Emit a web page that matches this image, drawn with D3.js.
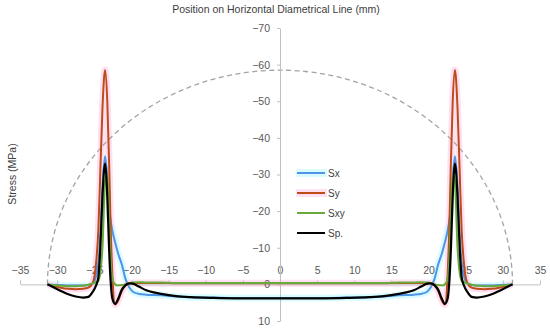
<!DOCTYPE html>
<html>
<head>
<meta charset="utf-8">
<script src="https://cdn.jsdelivr.net/npm/d3@7"></script>
<style>
	body { margin: 0; background: #fff; }
	text { font-family: "Liberation Sans", Arial, sans-serif; }
</style>
</head>
<body>
<script>

// position along the diametrical line (mm)
var posX = [-31.3, -30.5, -29.5, -28.5, -27.5, -26.5, -25.8, -25.2, -24.8, -24.45, -24.2, -23.9, -23.55, -23.25, -23.0, -22.8, -22.55, -22.2, -21.8, -21.3, -20.8, -20.3, -19.8, -19.0, -18.0, -17.0, -16.0, -14.0, -12.0, -9.0, -6.0, -3.0,
	0,
	3.0, 6.0, 9.0, 12.0, 14.0, 16.0, 17.0, 18.0, 19.0, 19.8, 20.3, 20.8, 21.3, 21.8, 22.2, 22.55, 22.8, 23.0, 23.25, 23.55, 23.9, 24.2, 24.45, 24.8, 25.2, 25.8, 26.5, 27.5, 28.5, 29.5, 30.5, 31.3];

// stresses (MPa)
var sx = [0, 0.1, 0.2, 0.3, 0.3, 0.3, 0.2, -0.3, -2, -6, -13, -27, -35, -29, -21, -17.5, -14.5, -11.5, -8.5, -5.5, -1.5, 0.8, 2.0, 2.6, 2.8, 2.9, 3.0, 3.3, 3.5, 3.6, 3.7, 3.7,
	3.7,
	3.7, 3.7, 3.6, 3.5, 3.3, 3.0, 2.9, 2.8, 2.6, 2.0, 0.8, -1.5, -5.5, -8.5, -11.5, -14.5, -17.5, -21, -29, -35, -27, -13, -6, -2, -0.3, 0.2, 0.3, 0.3, 0.3, 0.2, 0.1, 0];

var sy = [0, 0.4, 0.9, 1.2, 1.3, 1.2, 0.9, -0.5, -5, -15, -30, -48, -58.5, -50, -33, -16, -2, 5.5, 4.5, 1.8, 0.3, -0.3, -0.4, -0.4, -0.4, -0.4, -0.4, -0.3, -0.3, -0.3, -0.3, -0.3,
	-0.3,
	-0.3, -0.3, -0.3, -0.3, -0.3, -0.4, -0.4, -0.4, -0.4, -0.4, -0.3, 0.3, 1.8, 4.5, 5.5, -2, -16, -33, -50, -58.5, -48, -30, -15, -5, -0.5, 0.9, 1.2, 1.3, 1.2, 0.9, 0.4, 0];

var sxy = [0, 0.2, 0.4, 0.5, 0.5, 0.4, 0.1, -0.3, -0.6, -1, -3, -10, -28, -30, -17, -7, -1.5, 0, 0.3, 0.2, 0, -0.3, -0.5, -0.6, -0.5, -0.5, -0.5, -0.4, -0.4, -0.4, -0.4, -0.4,
	-0.4,
	-0.4, -0.4, -0.4, -0.4, -0.4, -0.5, -0.5, -0.5, -0.6, -0.5, -0.3, 0, 0.2, 0.3, 0, -1.5, -7, -17, -30, -28, -10, -3, -1, -0.6, -0.3, 0.1, 0.4, 0.5, 0.5, 0.4, 0.2, 0];

var sp = [0, 0.8, 1.8, 2.7, 3.3, 3.6, 3.4, 2.0, 0.5, -2, -9.5, -24, -33, -24, -9.5, -1, 4, 5.3, 4.0, 1.5, 0.2, -0.3, -0.2, 0.6, 1.6, 2.2, 2.6, 3.2, 3.5, 3.7, 3.8, 3.8,
	3.8,
	3.8, 3.8, 3.7, 3.5, 3.2, 2.6, 2.2, 1.6, 0.6, -0.2, -0.3, 0.2, 1.5, 4.0, 5.3, 4, -1, -9.5, -24, -33, -24, -9.5, -2, 0.5, 2.0, 3.4, 3.6, 3.3, 2.7, 1.8, 0.8, 0];

var seriesNames = ["Sx", "Sy", "Sxy", "Sp."];
var seriesColors = ["#4f94e6", "#bd4c18", "#6aaa3c", "#000000"];
var glowColors = ["#dafcff", "#ffe0f3", null, null];

// reference semicircle: half width (mm) and crown (MPa)
var circleHalfWidth = 31.3;
var circleCrown = -58.5;

var xTicks = [-35, -30, -25, -20, -15, -10, -5, 0, 5, 10, 15, 20, 25, 30, 35];
var yTicks = [-70, -60, -50, -40, -30, -20, -10, 0, 10];

function load() {

	var width = 550, height = 330;

	var svg = d3.select("body").append("svg")
		.attr("width", width)
		.attr("height", height);

	var x = d3.scaleLinear().domain([-35, 35]).range([20, 540]);
	var y = d3.scaleLinear().domain([-70, 10]).range([28, 321]);

	var allSeries = [sx, sy, sxy, sp];

	var line = d3.line()
		.x(function(d, i) { return x(posX[i]); })
		.y(function(d) { return y(d); })
		.curve(d3.curveMonotoneX);

	// soft glow behind Sx and Sy
	allSeries.forEach(function(s, k) {
		if (!glowColors[k]) return;
		svg.append("path")
			.datum(s)
			.attr("d", line)
			.attr("fill", "none")
			.attr("stroke", glowColors[k])
			.attr("stroke-width", 7)
			.attr("stroke-linejoin", "round");
	});

	// dashed semicircle
	var rx = x(circleHalfWidth) - x(0),
		ry = y(0) - y(circleCrown);
	svg.append("path")
		.attr("d", "M" + x(-circleHalfWidth) + "," + y(0) +
			" A" + rx + "," + ry + " 0 0 1 " + x(circleHalfWidth) + "," + y(0))
		.attr("fill", "none")
		.attr("stroke", "#a3a3a3")
		.attr("stroke-width", 1.3)
		.attr("stroke-dasharray", "5,3.5");

	// x axis along zero stress, labels above
	var xAxis = svg.append("g")
		.attr("transform", "translate(0," + y(0) + ")")
		.call(d3.axisTop(x).tickValues(xTicks).tickSize(4).tickSizeOuter(0).tickPadding(6));

	// y axis through zero position
	var yAxis = svg.append("g")
		.attr("transform", "translate(" + x(0) + ",0)")
		.call(d3.axisLeft(y).tickValues(yTicks).tickSize(3).tickSizeOuter(0).tickPadding(7));

	[xAxis, yAxis].forEach(function(a) {
		a.select(".domain").attr("stroke", "#bfbfbf");
		a.selectAll(".tick line").attr("stroke", "#bfbfbf");
		a.selectAll(".tick text")
			.attr("fill", "#595959")
			.style("font-size", "10.5px")
			.style("font-family", "'Liberation Sans', Arial, sans-serif");
	});

	allSeries.forEach(function(s, k) {
		svg.append("path")
			.datum(s)
			.attr("d", line)
			.attr("fill", "none")
			.attr("stroke", seriesColors[k])
			.attr("stroke-width", k == 3 ? 2.2 : 2)
			.attr("stroke-linejoin", "round");
	});

	// legend
	var legend = svg.append("g").attr("transform", "translate(297,173)");
	seriesNames.forEach(function(n, i) {
		if (glowColors[i]) {
			legend.append("rect")
				.attr("x", -1).attr("y", i * 20 - 4)
				.attr("width", 31).attr("height", 8)
				.attr("fill", glowColors[i]);
		}
		legend.append("line")
			.attr("x1", 0).attr("x2", 28)
			.attr("y1", i * 20).attr("y2", i * 20)
			.attr("stroke", seriesColors[i])
			.attr("stroke-width", 2);
		legend.append("text")
			.attr("x", 31).attr("y", i * 20)
			.attr("dy", "0.35em")
			.attr("fill", "#404040")
			.style("font-size", "10px")
			.text(n);
	});

	// titles
	svg.append("text")
		.attr("x", 276).attr("y", 9)
		.attr("dy", "0.35em")
		.attr("text-anchor", "middle")
		.attr("fill", "#404040")
		.style("font-size", "10.5px")
		.text("Position on Horizontal Diametrical Line (mm)");

	svg.append("text")
		.attr("transform", "translate(12,174) rotate(-90)")
		.attr("dy", "0.35em")
		.attr("text-anchor", "middle")
		.attr("fill", "#404040")
		.style("font-size", "10.5px")
		.text("Stress (MPa)");
}

load();
</script>
</body>
</html>
